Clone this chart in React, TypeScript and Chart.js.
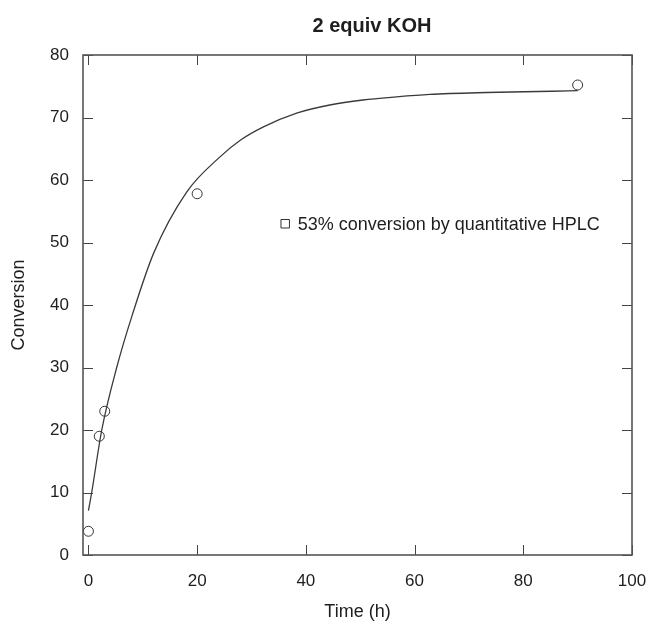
import React, { useEffect, useRef } from "react";
import { Chart, registerables } from "chart.js";

Chart.register(...registerables);

// Measured conversion over time (circles)
const timeH = [0, 2, 3, 20, 90];
const conversion = [3.8, 19, 23, 57.8, 75.2];

// Fitted kinetic curve, sampled along its length
const fitT = [0, 0.6, 2.45, 5.2, 8.1, 12, 18.1, 24.2, 28, 32.2, 38.3, 44.4, 50.5, 56.6, 62.8, 73.2, 85.3, 90];
const fitY = [7.1, 10, 20, 30, 38.5, 48.3, 58.1, 63.7, 66.4, 68.5, 70.7, 72.0, 72.8, 73.3, 73.7, 74.0, 74.2, 74.3];

// HPLC reference point (square)
const hplcT = [36.2];
const hplcY = [53];

const xTicks = [0, 20, 40, 60, 80, 100];
const yTicks = [0, 10, 20, 30, 40, 50, 60, 70, 80];

const titleText = "2 equiv KOH";
const xTitle = "Time (h)";
const yTitle = "Conversion";
const hplcLabel = "% conversion by quantitative HPLC";

const FONT = "'Liberation Sans', Arial, Helvetica, sans-serif";
const INK = "#1e1e1e";

const framePlugin = {
  id: "frame",
  afterDraw(chart: any) {
    const { ctx, chartArea: a, scales } = chart;
    const xs = scales.x;
    const ys = scales.y;
    ctx.save();
    // inward tick marks on all four sides
    ctx.strokeStyle = "#444";
    ctx.lineWidth = 1;
    const tl = 10;
    ctx.beginPath();
    xTicks.forEach((v) => {
      const px = Math.round(xs.getPixelForValue(v)) + 0.5;
      ctx.moveTo(px, a.bottom);
      ctx.lineTo(px, a.bottom - tl);
      ctx.moveTo(px, a.top);
      ctx.lineTo(px, a.top + tl);
    });
    yTicks.forEach((v) => {
      const py = Math.round(ys.getPixelForValue(v)) + 0.5;
      ctx.moveTo(a.left, py);
      ctx.lineTo(a.left + tl, py);
      ctx.moveTo(a.right, py);
      ctx.lineTo(a.right - tl, py);
    });
    ctx.stroke();
    // frame
    ctx.strokeStyle = "#555";
    ctx.lineWidth = 1.6;
    ctx.strokeRect(a.left, a.top, a.right - a.left, a.bottom - a.top);

    // HPLC label beside the square marker
    ctx.fillStyle = INK;
    ctx.font = `18px ${FONT}`;
    ctx.textAlign = "left";
    ctx.textBaseline = "middle";
    ctx.fillText(
      `${hplcY[0]}${hplcLabel}`,
      xs.getPixelForValue(hplcT[0]) + 12.5,
      ys.getPixelForValue(hplcY[0]) + 1
    );

    // title and axis titles
    ctx.textAlign = "center";
    ctx.font = `bold 20px ${FONT}`;
    ctx.fillText(titleText, 372, 26);
    ctx.font = `18px ${FONT}`;
    ctx.fillText(xTitle, (a.left + a.right) / 2, 612);
    ctx.translate(19, (a.top + a.bottom) / 2);
    ctx.rotate(-Math.PI / 2);
    ctx.fillText(yTitle, 0, 0);
    ctx.restore();
  },
};

export default function App() {
  const ref = useRef<HTMLCanvasElement | null>(null);

  useEffect(() => {
    if (!ref.current) return;
    const chart = new Chart(ref.current, {
      type: "scatter",
      data: {
        datasets: [
          {
            type: "line",
            data: fitT.map((t, i) => ({ x: t, y: fitY[i] })),
            borderColor: "#3a3a3a",
            borderWidth: 1.3,
            pointRadius: 0,
            cubicInterpolationMode: "monotone",
            fill: false,
          } as any,
          {
            data: timeH.map((t, i) => ({ x: t, y: conversion[i] })),
            pointStyle: "circle",
            pointRadius: 5,
            borderColor: "#333",
            borderWidth: 1,
            backgroundColor: "rgba(255,255,255,0)",
          },
          {
            data: hplcT.map((t, i) => ({ x: t, y: hplcY[i] })),
            pointStyle: "rect",
            pointRadius: 6,
            borderColor: "#333",
            borderWidth: 1,
            backgroundColor: "rgba(255,255,255,0)",
          },
        ],
      },
      options: {
        responsive: false,
        animation: false,
        devicePixelRatio: 1,
        layout: { padding: { top: 55, right: 0, left: 0, bottom: 0 } },
        plugins: {
          legend: { display: false },
          tooltip: { enabled: false },
          title: { display: false },
        },
        scales: {
          x: {
            type: "linear",
            min: -1,
            max: 100,
            afterBuildTicks: (s: any) => {
              s.ticks = xTicks.map((v) => ({ value: v }));
            },
            afterFit: (s: any) => {
              s.height = 72;
              s.paddingRight = 15;
            },
            grid: { display: false, drawTicks: false },
            border: { display: false },
            ticks: {
              padding: 16,
              color: INK,
              font: { family: FONT, size: 17 },
              maxRotation: 0,
            },
          },
          y: {
            type: "linear",
            min: 0,
            max: 80,
            afterBuildTicks: (s: any) => {
              s.ticks = yTicks.map((v) => ({ value: v }));
            },
            afterFit: (s: any) => {
              s.width = 83;
            },
            grid: { display: false, drawTicks: false },
            border: { display: false },
            ticks: {
              padding: 14,
              color: INK,
              font: { family: FONT, size: 17 },
            },
          },
        },
      },
      plugins: [framePlugin],
    });
    return () => chart.destroy();
  }, []);

  return (
    <div style={{ position: "absolute", left: 0, top: 0, width: 647, height: 627, background: "#fff" }}>
      <canvas ref={ref} width={647} height={627} />
    </div>
  );
}
